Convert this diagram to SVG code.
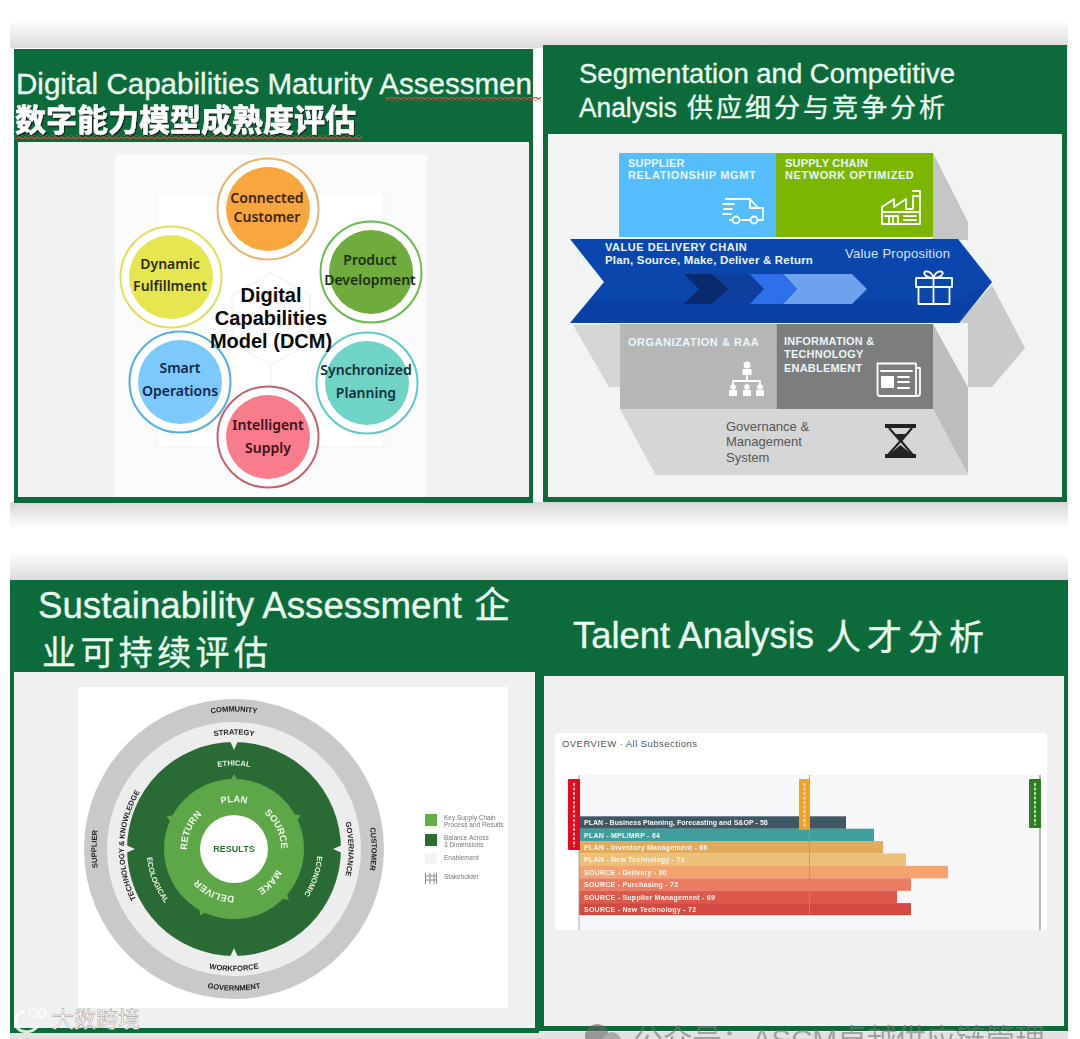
<svg xmlns="http://www.w3.org/2000/svg" width="1080" height="1039" viewBox="0 0 1080 1039">
<style>
text{font-family:"Liberation Sans","Noto Sans CJK SC",sans-serif}
.g{fill:#0c6a3b}
.t{fill:#eafbf0;stroke:#eafbf0;stroke-width:.35}
.cn{font-family:"Noto Sans CJK SC","Liberation Sans",sans-serif;fill:#eafbf0;stroke:#eafbf0;stroke-width:.35}
.lab{font-family:"Noto Sans",sans-serif;font-weight:600;font-size:14px;text-anchor:middle}
.dcm{font-weight:700;font-size:20px;text-anchor:middle;fill:#0a0a0a}
.w{font-weight:700;font-size:11px;fill:#eaf6fb;letter-spacing:.2px}
.gov{font-size:13px;fill:#555}
.rk{font-weight:700;font-size:7.5px;fill:#1c1c1c;text-anchor:middle}
.rw{font-weight:700;font-size:7.5px;fill:#e8f3e8;text-anchor:middle}
.ri{font-weight:700;font-size:9.500px;fill:#eef7ea;text-anchor:middle}
.leg{font-size:6.5px;fill:#777}
.bl{font-weight:700;font-size:7px;fill:#f6f6f0;letter-spacing:.25px}
.ic{fill:none;stroke:#fff;stroke-width:1.8;stroke-linejoin:round;stroke-linecap:round}
.if{fill:#fff}
</style>
<defs>
<linearGradient id="sd" x1="0" y1="0" x2="0" y2="1"><stop offset="0" stop-color="#fff"/><stop offset="1" stop-color="#dcdcdc"/></linearGradient>
<linearGradient id="su" x1="0" y1="0" x2="0" y2="1"><stop offset="0" stop-color="#d6d6d6"/><stop offset="1" stop-color="#fff"/></linearGradient>
<pattern id="wave" width="6" height="4" patternUnits="userSpaceOnUse"><path d="M0 2 Q1.5 0 3 2 T6 2" fill="none" stroke="#d5473c" stroke-width="1.300"/></pattern>
<filter id="soft" x="-5%" y="-5%" width="110%" height="110%"><feGaussianBlur stdDeviation=".35"/></filter>
<filter id="shadow" x="-5%" y="-20%" width="110%" height="140%"><feDropShadow dx="1" dy="1.500" stdDeviation=".5" flood-color="#1a1a1a"/></filter>
<path id="cw136" d="M96.5 849A137.5 137.5 0 0 1 371.5 849"/>
<path id="ccw141" d="M92.5 849A141.5 141.5 0 0 0 375.5 849"/>
<path id="cw114" d="M119.5 849A114.5 114.5 0 0 1 348.5 849"/>
<path id="cw110" d="M124 849A110 110 0 0 1 344 849"/>
<path id="ccw122" d="M112 849A122 122 0 0 0 356 849"/>
<path id="cw83" d="M150.5 849A83.5 83.5 0 0 1 317.5 849"/>
<path id="ccw87" d="M146.5 849A87.5 87.5 0 0 0 321.5 849"/>
<path id="cw47" d="M187 849A47 47 0 0 1 281 849"/>
<path id="tg" d="M230.500 780 L234 774 L237.500 780Z"/>
</defs>

<rect width="1080" height="1039" fill="#fff"/>
<g id="backdrop">
<rect x="10" y="20" width="1058" height="28" fill="url(#sd)"/>
<rect x="10" y="502" width="1058" height="26" fill="url(#su)"/>
<rect x="10" y="552" width="1058" height="28" fill="url(#sd)"/>
<rect x="10" y="1032" width="1058" height="7" fill="#e2e2e2"/>
</g>

<g id="panel-digital">
<rect class="g" x="14" y="49" width="519" height="454"/>
<rect x="18" y="142" width="511" height="355" fill="#f1f2f2"/>
<rect x="115" y="155" width="312" height="342" fill="#fbfbfb"/>
<rect x="157" y="192" width="227" height="255" fill="#fff" stroke="#f1f1f1"/>
<path d="M271 273 L310 295 V343 L271 365 L232 343 V295Z M271 365 V390" fill="none" stroke="#ececec"/>
<text class="t" x="16" y="94" font-size="29" textLength="516" lengthAdjust="spacingAndGlyphs">Digital Capabilities Maturity Assessmen</text>
<rect x="385" y="97" width="156" height="4" fill="url(#wave)"/>
<text class="cn" x="15" y="131" font-size="31" font-weight="700" style="fill:#fff;stroke:#fff;stroke-width:.6" filter="url(#shadow)">数字能力模型成熟度评估</text>
<rect x="15" y="135" width="347" height="4" fill="url(#wave)"/>
</g>

<g id="node-connected"><circle cx="268" cy="209" r="50.5" fill="#fff" stroke="#e5b56d" stroke-width="2"/><circle cx="268" cy="209" r="42" fill="#f9a63e"/><text class="lab" fill="#3a2410" x="267" y="203">Connected</text><text class="lab" fill="#3a2410" x="267" y="222">Customer</text></g>
<g id="node-product"><circle cx="371" cy="272" r="50.5" fill="#fff" stroke="#6cba4c" stroke-width="2"/><circle cx="371" cy="272" r="42" fill="#70ac3d"/><text class="lab" fill="#1d2f14" x="370" y="265">Product</text><text class="lab" fill="#1d2f14" x="370" y="285">Development</text></g>
<g id="node-synchronized"><circle cx="367" cy="383" r="50.5" fill="#fff" stroke="#5fc8c9" stroke-width="2"/><circle cx="367" cy="383" r="42" fill="#6fd3c5"/><text class="lab" fill="#10303a" x="366" y="375">Synchronized</text><text class="lab" fill="#10303a" x="366" y="398">Planning</text></g>
<g id="node-intelligent"><circle cx="268" cy="437" r="50.5" fill="#fff" stroke="#c4626c" stroke-width="2"/><circle cx="268" cy="437" r="42" fill="#f87c8b"/><text class="lab" fill="#3a1018" x="268" y="430">Intelligent</text><text class="lab" fill="#3a1018" x="268" y="453">Supply</text></g>
<g id="node-smart"><circle cx="180" cy="382" r="50.5" fill="#fff" stroke="#55aedb" stroke-width="2"/><circle cx="180" cy="382" r="42" fill="#7dc9fb"/><text class="lab" fill="#10264a" x="180" y="373">Smart</text><text class="lab" fill="#10264a" x="180" y="396">Operations</text></g>
<g id="node-dynamic"><circle cx="171" cy="277" r="50.5" fill="#fff" stroke="#dfe05c" stroke-width="2"/><circle cx="171" cy="277" r="42" fill="#e6e650"/><text class="lab" fill="#2c2c10" x="170" y="269">Dynamic</text><text class="lab" fill="#2c2c10" x="170" y="291">Fulfillment</text></g>
<g id="node-dcm"><text class="dcm" x="271" y="302">Digital</text><text class="dcm" x="271" y="325">Capabilities</text><text class="dcm" x="271" y="348">Model (DCM)</text></g>

<g id="panel-segmentation">
<rect class="g" x="543" y="45" width="524" height="457"/>
<rect x="548" y="134" width="514" height="363" fill="#f2f3f3"/>
<text class="t" x="579" y="83" font-size="27" textLength="376" lengthAdjust="spacingAndGlyphs">Segmentation and Competitive</text>
<text class="t" x="579" y="117" font-size="27" textLength="98" lengthAdjust="spacingAndGlyphs">Analysis</text>
<text class="cn" x="687" y="117" font-size="26" textLength="258">供应细分与竞争分析</text>
<g id="blocks-3d">
<path d="M933 153 L968 222 V240 H933Z" fill="#c5c6c6"/>
<path d="M958 323 L992 285 L1025 348 L992 387 H968 V323Z" fill="#c9caca"/>
<path d="M573 325 L609 387 H620 V324Z" fill="#d4d5d5"/>
<path d="M933 324 L968 387 V475 L933 409Z" fill="#bcbdbd"/>
<path d="M620 409 H933 L968 475 H655.5Z" fill="#d5d6d6"/>
</g>
<g id="block-supplier"><rect x="619" y="153" width="157" height="84" fill="#55bdfb"/><text class="w" x="628" y="167">SUPPLIER</text><text class="w" x="628" y="179" textLength="128">RELATIONSHIP MGMT</text>
<path class="ic" d="M726 199 H750 L758 208 H763 V220 H759 M750 220 H741 M731 220 H730 M750 199 V208 H758 M723 204 H734 M724 209 H732 M723 214 H731"/><circle class="ic" cx="736" cy="220" r="3.5"/><circle class="ic" cx="754" cy="220" r="3.5"/></g>
<g id="block-network"><rect x="776" y="153" width="157" height="84" fill="#7db600"/><text class="w" x="785" y="167">SUPPLY CHAIN</text><text class="w" x="785" y="179" textLength="129">NETWORK OPTIMIZED</text>
<path class="ic" d="M882 224 V207 L894 199 V207 L906 199 V209 H913 V196 H920 V224Z M882 212 H920 M885 216 H898 V224 M889 216 V224 M893 216 V224 M913 191 H920 V196 M904 216 H916 M904 220 H916"/></g>
<g id="chevron-value">
<path d="M570 239 H958 L992 282 L959 323 H570 L604 282Z" fill="#0b46ad"/>
<path d="M570 323 H959 L992 282 L959 300 H590Z" fill="#08399a" opacity=".3"/>
<path d="M684 274 H712 L729 289 L712 304 H684 L699 289Z" fill="#0a2a6e"/>
<path d="M712 274 H747 L764 289 L747 304 H712 L729 289Z" fill="#0e3f9e"/>
<path d="M750 274 H782 L797 289 L782 304 H750 L764 289Z" fill="#2e6fea"/>
<path d="M783 274 H852 L867 289 L852 304 H783 L797 289Z" fill="#6ea2ef"/>
<text class="w" x="605" y="251" textLength="142">VALUE DELIVERY CHAIN</text>
<text class="w" x="605" y="264" textLength="208" lengthAdjust="spacingAndGlyphs">Plan, Source, Make, Deliver &amp; Return</text>
<text x="845" y="258" font-size="13" fill="#d8e6fa" textLength="105">Value Proposition</text>
<path class="ic" d="M916 278 H952 V287 H916Z M918.5 287 V304 H949.5 V287 M933.5 278 V304 M933.5 278 C925 278 922 272 926 271.500 C930 271 933 275 933.500 278 C934 275 937 271 941 271.500 C945 272 942 278 933.500 278"/></g>
<g id="block-organization"><rect x="620" y="324" width="156.500" height="85" fill="#b5b6b6"/><text class="w" x="628" y="346" textLength="131" fill="#e6e6e6">ORGANIZATION &amp; RAA</text>
<circle class="if" cx="747" cy="365" r="3.500"/><rect class="if" x="742.500" y="369" width="9" height="6"/><path class="ic" d="M747 375 V381 M733 386 V381 H760 V386" stroke-width="1.200"/>
<circle class="if" cx="733" cy="387" r="2.800"/><rect class="if" x="729" y="390" width="8" height="6"/><circle class="if" cx="747" cy="387" r="2.800"/><rect class="if" x="743" y="390" width="8" height="6"/><circle class="if" cx="760" cy="387" r="2.800"/><rect class="if" x="756" y="390" width="8" height="6"/></g>
<g id="block-information"><rect x="776.500" y="324" width="156.500" height="85" fill="#7c7d7d"/><text class="w" x="784" y="345">INFORMATION &amp;</text><text class="w" x="784" y="358">TECHNOLOGY</text><text class="w" x="784" y="372">ENABLEMENT</text>
<path class="ic" d="M916 368 H920 V394 Q920 396 917 396 H880 Q877.500 396 877.500 393 V363.500 H916 V396" stroke-width="2.200"/><rect class="if" x="881" y="376" width="13" height="12"/><path class="ic" d="M881 371 H912 M898 377 H909 M898 382 H909 M898 388 H909"/></g>
<g id="block-governance"><text class="gov" x="726" y="431">Governance &amp;</text><text class="gov" x="726" y="446">Management</text><text class="gov" x="726" y="462">System</text>
<rect x="885" y="424" width="31" height="4" fill="#222"/><rect x="885" y="454" width="31" height="4" fill="#222"/><path d="M889 428 L900.500 441 L889 454 H912 L901 441 L912 428" fill="none" stroke="#222" stroke-width="2.200"/><path d="M891 453 L900.500 445 L910 453Z M895 434 H906 L900.500 440Z" fill="#222"/></g>
</g>

<g id="panel-sustainability">
<rect class="g" x="10" y="580" width="529" height="453"/>
<rect x="14" y="672" width="521" height="356" fill="#f0f0f0"/>
<text class="t" x="38" y="618" font-size="36" textLength="424" lengthAdjust="spacingAndGlyphs">Sustainability Assessment</text>
<text class="cn" x="474" y="618" font-size="36">企</text>
<text class="cn" x="42" y="665" font-size="34" textLength="226">业可持续评估</text>
<rect x="78" y="687" width="430" height="321" fill="#fff"/>
<g id="rings">
<circle cx="234" cy="849" r="150" fill="#c8c9ca"/>
<circle cx="234" cy="849" r="127" fill="#ededee"/>
<circle cx="234" cy="849" r="107" fill="#2a6a34"/>
<circle cx="234" cy="849" r="70" fill="#5ea749"/>
<circle cx="234" cy="849" r="34" fill="#fff"/>
<g fill="#ededee"><path d="M230 741 H238 L234 750Z"/><path d="M230 957 H238 L234 948Z"/><path d="M126 845 V853 L135 849Z"/><path d="M342 845 V853 L333 849Z"/></g>
<g fill="#5ea749"><use href="#tg"/><use href="#tg" transform="rotate(63 234 849)"/><use href="#tg" transform="rotate(133 234 849)"/><use href="#tg" transform="rotate(207 234 849)"/><use href="#tg" transform="rotate(-64 234 849)"/></g>
</g>
<g id="ring-labels" filter="url(#soft)">
<text class="rk"><textPath href="#cw136" startOffset="50%">COMMUNITY</textPath></text>
<text class="rk"><textPath href="#ccw141" startOffset="50%">GOVERNMENT</textPath></text>
<text class="rk" transform="rotate(-90 234 849)"><textPath href="#cw136" startOffset="50%">SUPPLIER</textPath></text>
<text class="rk" transform="rotate(90 234 849)"><textPath href="#cw136" startOffset="50%">CUSTOMER</textPath></text>
<text class="rk"><textPath href="#cw114" startOffset="50%">STRATEGY</textPath></text>
<text class="rk"><textPath href="#ccw122" startOffset="50%">WORKFORCE</textPath></text>
<text class="rk" transform="rotate(-88 234 849)"><textPath href="#cw110" startOffset="50%">TECHNOLOGY &amp; KNOWLEDGE</textPath></text>
<text class="rk" transform="rotate(90 234 849)"><textPath href="#cw114" startOffset="50%">GOVERNANCE</textPath></text>
<text class="rw"><textPath href="#cw83" startOffset="50%">ETHICAL</textPath></text>
<text class="rw" transform="rotate(109 234 849)"><textPath href="#cw83" startOffset="50%">ECONOMIC</textPath></text>
<text class="rw" transform="rotate(68 234 849)"><textPath href="#ccw87" startOffset="50%">ECOLOGICAL</textPath></text>
<text class="ri"><textPath href="#cw47" startOffset="50%">PLAN</textPath></text>
<text class="ri" transform="rotate(65 234 849)"><textPath href="#cw47" startOffset="50%">SOURCE</textPath></text>
<text class="ri" transform="rotate(133 234 849)"><textPath href="#cw47" startOffset="50%">MAKE</textPath></text>
<text class="ri" transform="rotate(205 234 849)"><textPath href="#cw47" startOffset="50%">DELIVER</textPath></text>
<text class="ri" transform="rotate(-67 234 849)"><textPath href="#cw47" startOffset="50%">RETURN</textPath></text>
<text x="234" y="852" font-size="9" font-weight="700" fill="#2f6b3c" text-anchor="middle">RESULTS</text>
</g>
<g id="legend" filter="url(#soft)">
<rect x="425" y="814" width="12" height="12" fill="#5fb04a"/><text class="leg" x="444" y="820">Key Supply Chain</text><text class="leg" x="444" y="827">Process and Results</text>
<rect x="425" y="834" width="12" height="12" fill="#2a6e32"/><text class="leg" x="444" y="840">Balance Across</text><text class="leg" x="444" y="847">3 Dimensions</text>
<rect x="425" y="853" width="12" height="11" fill="#f3f3f3"/><text class="leg" x="444" y="860">Enablement</text>
<path d="M425.500 873 V884 M430 873 V884 M434 873 V884 M436.500 873 V884 M425 876 H437 M425 880 H437" stroke="#8b8b8b" fill="none"/><text class="leg" x="444" y="879">Stakeholder</text>
</g>
</g>

<g id="panel-talent">
<rect class="g" x="539" y="580" width="529" height="451"/>
<rect x="544" y="676" width="520" height="350" fill="#f0f0f0"/>
<text class="t" x="573" y="648" font-size="36" textLength="241" lengthAdjust="spacingAndGlyphs">Talent Analysis</text>
<text class="cn" x="826" y="650" font-size="35" textLength="158">人才分析</text>
<rect x="555" y="733" width="492" height="197" rx="3" fill="#fff"/>
<rect x="579" y="775" width="461" height="155" fill="#f7f7f9"/>
<text x="562" y="747" font-size="9.500" fill="#555" textLength="135">OVERVIEW · All Subsections</text>
<g id="chart" filter="url(#soft)">
<g id="bars">
<rect x="579" y="816.300" width="267" height="12.500" fill="#3f5965"/>
<rect x="579" y="828.700" width="295" height="12.500" fill="#3f9f9c"/>
<rect x="579" y="841.100" width="304" height="12.500" fill="#e1aa5c"/>
<rect x="579" y="853.500" width="327" height="12.500" fill="#ecc078"/>
<rect x="579" y="865.900" width="369" height="12.500" fill="#f4a26f"/>
<rect x="579" y="878.300" width="332" height="12.500" fill="#ec7b61"/>
<rect x="579" y="890.700" width="318" height="12.500" fill="#dc5a4c"/>
<rect x="579" y="903.100" width="332" height="12" fill="#d14a42"/>
</g>
<path d="M579 775 V930" stroke="#999" stroke-width=".8"/><path d="M809.500 775 V915" stroke="#a89a60" stroke-width=".8"/><path d="M1040 775 V930" stroke="#8a8a8a" stroke-width="1.200"/>
<rect x="568" y="779" width="12" height="71" rx="1" fill="#e01020"/><path d="M574 783 V847" stroke="#f5b0b0" stroke-width="2" stroke-dasharray="3 1.500"/>
<rect x="799" y="779" width="11" height="51" rx="1" fill="#f0a020"/><path d="M804.500 783 V827" stroke="#fbdc9a" stroke-width="2" stroke-dasharray="3 1.500"/>
<rect x="1029" y="779" width="12" height="49" rx="1" fill="#2f7d22"/><path d="M1035 783 V825" stroke="#b8dcae" stroke-width="2" stroke-dasharray="3 1.500"/>
<text class="bl" x="584" y="825" textLength="184">PLAN - Business Planning, Forecasting and S&amp;OP - 58</text>
<text class="bl" x="584" y="837.500">PLAN - MPL/MRP - 64</text>
<text class="bl" x="584" y="850">PLAN - Inventory Management - 66</text>
<text class="bl" x="584" y="862">PLAN - New Technology - 71</text>
<text class="bl" x="584" y="874.500">SOURCE - Delivery - 80</text>
<text class="bl" x="584" y="887">SOURCE - Purchasing - 72</text>
<text class="bl" x="584" y="899.500">SOURCE - Supplier Management - 69</text>
<text class="bl" x="584" y="911.500">SOURCE - New Technology - 72</text>
</g>
</g>

<g id="watermarks">
<g opacity=".85"><path d="M24 1011 C14 1014 12 1028 22 1031 C30 1033 36 1030 38 1025" fill="none" stroke="#fff" stroke-width="3"/><circle cx="33" cy="1013" r="4" fill="none" stroke="#fff" stroke-width="1.500"/><circle cx="42" cy="1013" r="4" fill="none" stroke="#fff" stroke-width="1.500"/></g>
<text x="52" y="1027" font-size="22" class="cn" style="fill:#fff;stroke:#8a8a8a;stroke-width:.4">大数跨境</text>
<g opacity=".6"><circle cx="597" cy="1036" r="12" fill="#666"/><circle cx="612" cy="1041" r="9" fill="#888"/><text x="633" y="1050" font-size="30" fill="#777" font-family="Noto Sans CJK SC" textLength="412">公众号：ASCM卓越供应链管理</text></g>
</g>
</svg>
